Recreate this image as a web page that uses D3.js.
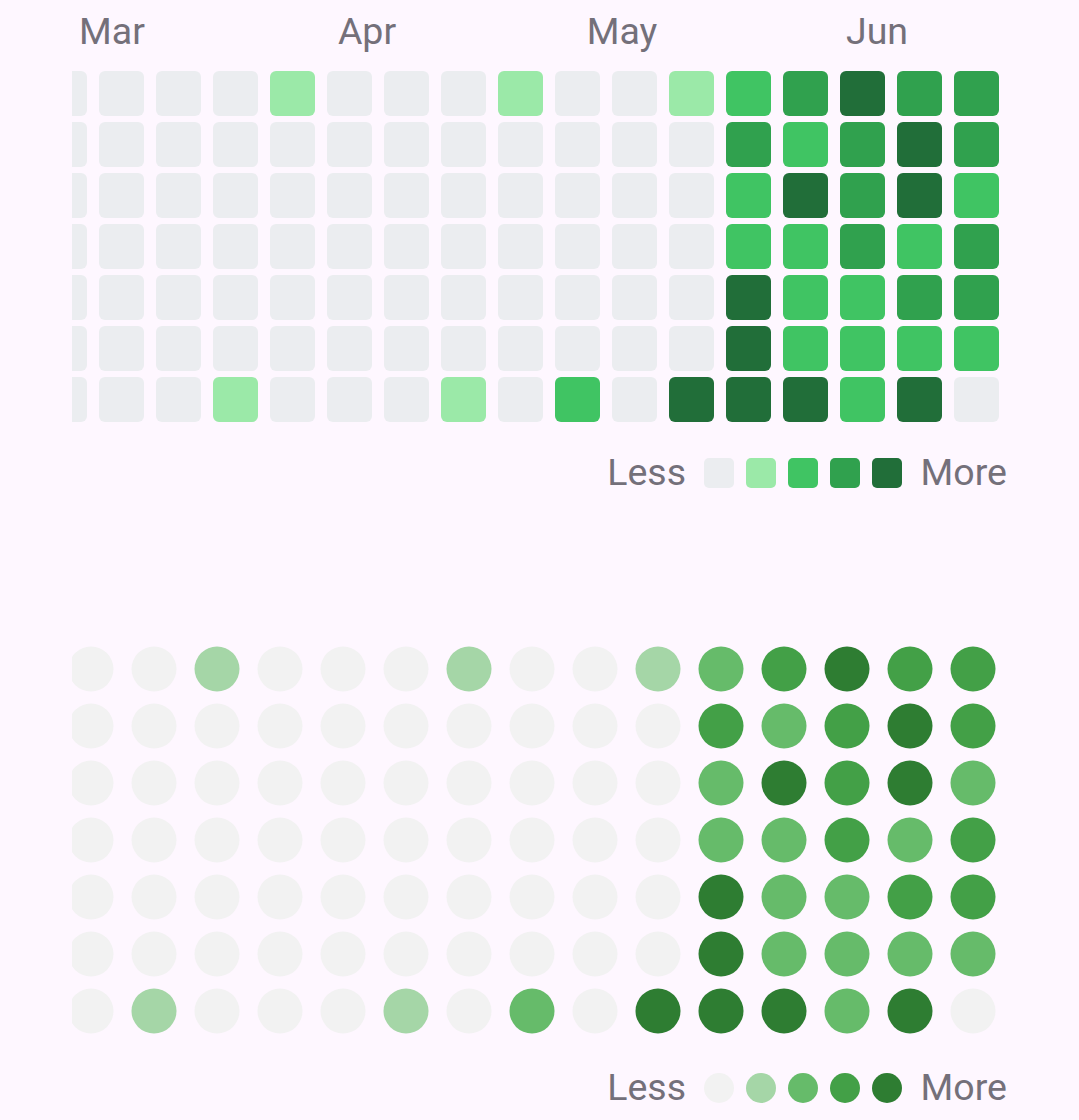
<!DOCTYPE html>
<html>
<head>
<meta charset="utf-8">
<script src="https://cdn.jsdelivr.net/npm/d3@7"></script>
<style>
  html, body { margin: 0; padding: 0; background: #FEF7FF; }
  svg { display: block; }
  text { font-family: Roboto, "Noto Sans", sans-serif; }
</style>
</head>
<body>
<svg id="chart" width="1079" height="1120"></svg>
<script>
// ---- data ----
// weeks (columns) x weekdays (rows), activity level 0..4
const weekdays = [0, 1, 2, 3, 4, 5, 6];
const weeks = d3.range(17);
// levels per weekday row, one value per week column
const row0 = [0, 0, 0, 0, 1, 0, 0, 0, 1, 0, 0, 1, 2, 3, 4, 3, 3];
const row1 = [0, 0, 0, 0, 0, 0, 0, 0, 0, 0, 0, 0, 3, 2, 3, 4, 3];
const row2 = [0, 0, 0, 0, 0, 0, 0, 0, 0, 0, 0, 0, 2, 4, 3, 4, 2];
const row3 = [0, 0, 0, 0, 0, 0, 0, 0, 0, 0, 0, 0, 2, 2, 3, 2, 3];
const row4 = [0, 0, 0, 0, 0, 0, 0, 0, 0, 0, 0, 0, 4, 2, 2, 3, 3];
const row5 = [0, 0, 0, 0, 0, 0, 0, 0, 0, 0, 0, 0, 4, 2, 2, 2, 2];
const row6 = [0, 0, 0, 1, 0, 0, 0, 1, 0, 2, 0, 4, 4, 4, 2, 4, 0];
const rows = [row0, row1, row2, row3, row4, row5, row6];

const monthLabels = ["Mar", "Apr", "May", "Jun"];
const levels = [0, 1, 2, 3, 4];
const squareColors = ["#ebedf0", "#9be9a8", "#40c463", "#30a14e", "#216e39"];
const circleColors = ["#f2f2f2", "#a5d6a7", "#66bb6a", "#43a047", "#2e7d32"];
const legendLess = "Less";
const legendMore = "More";

// ---- build cells ----
const cells = [];
rows.forEach((r, d) => r.forEach((v, w) => cells.push({ week: w, day: d, level: v })));

const svg = d3.select("#chart");
const textColor = "#74707a";
const fontSize = 37.5;

const defs = svg.append("defs");
defs.append("clipPath").attr("id", "clipTop")
  .append("rect").attr("x", 72).attr("y", 0).attr("width", 1079 - 72).attr("height", 560);
defs.append("clipPath").attr("id", "clipBottom")
  .append("rect").attr("x", 72).attr("y", 560).attr("width", 1079 - 72).attr("height", 500);

// ---- top: square heatmap ----
const xTop = d3.scaleBand().domain(weeks).range([42, 999]).paddingInner(12 / 57);
const yTop = d3.scaleBand().domain(weekdays).range([71, 422]).paddingInner(6 / 51);
const colorTop = d3.scaleOrdinal().domain(levels).range(squareColors);
const xMonth = d3.scalePoint().domain(monthLabels).range([112, 877]);

const gTop = svg.append("g").attr("clip-path", "url(#clipTop)");
gTop.selectAll("rect.cell").data(cells).join("rect")
  .attr("class", "cell")
  .attr("x", d => xTop(d.week))
  .attr("y", d => yTop(d.day))
  .attr("width", xTop.bandwidth())
  .attr("height", yTop.bandwidth())
  .attr("rx", 6).attr("ry", 6)
  .attr("fill", d => colorTop(d.level));

svg.append("g").selectAll("text.month").data(monthLabels).join("text")
  .attr("class", "month")
  .attr("x", d => xMonth(d))
  .attr("y", 44)
  .attr("text-anchor", "middle")
  .attr("font-size", fontSize)
  .attr("fill", textColor)
  .text(d => d);

// top legend
const xLegTop = d3.scaleBand().domain(levels).range([704, 902]).paddingInner(12 / 42);
const legTop = svg.append("g");
legTop.selectAll("rect").data(levels).join("rect")
  .attr("x", d => xLegTop(d))
  .attr("y", 458)
  .attr("width", xLegTop.bandwidth())
  .attr("height", xLegTop.bandwidth())
  .attr("rx", 5).attr("ry", 5)
  .attr("fill", d => colorTop(d));
legTop.append("text").attr("x", 686).attr("y", 484.5).attr("text-anchor", "end")
  .attr("font-size", fontSize).attr("fill", textColor).text(legendLess);
legTop.append("text").attr("x", 920.5).attr("y", 484.5).attr("text-anchor", "start")
  .attr("font-size", fontSize).attr("fill", textColor).text(legendMore);

// ---- bottom: circle heatmap ----
const xBot = d3.scalePoint().domain(weeks).range([-35, 973]);
const yBot = d3.scalePoint().domain(weekdays).range([669, 1011]);
const colorBot = d3.scaleOrdinal().domain(levels).range(circleColors);

const gBot = svg.append("g").attr("clip-path", "url(#clipBottom)");
gBot.selectAll("circle.cell").data(cells).join("circle")
  .attr("class", "cell")
  .attr("cx", d => xBot(d.week))
  .attr("cy", d => yBot(d.day))
  .attr("r", 22.5)
  .attr("fill", d => colorBot(d.level));

const xLegBot = d3.scalePoint().domain(levels).range([719, 887]);
const legBot = svg.append("g");
legBot.selectAll("circle").data(levels).join("circle")
  .attr("cx", d => xLegBot(d))
  .attr("cy", 1088)
  .attr("r", 15)
  .attr("fill", d => colorBot(d));
legBot.append("text").attr("x", 686).attr("y", 1100).attr("text-anchor", "end")
  .attr("font-size", fontSize).attr("fill", textColor).text(legendLess);
legBot.append("text").attr("x", 920.5).attr("y", 1100).attr("text-anchor", "start")
  .attr("font-size", fontSize).attr("fill", textColor).text(legendMore);
</script>
</body>
</html>
